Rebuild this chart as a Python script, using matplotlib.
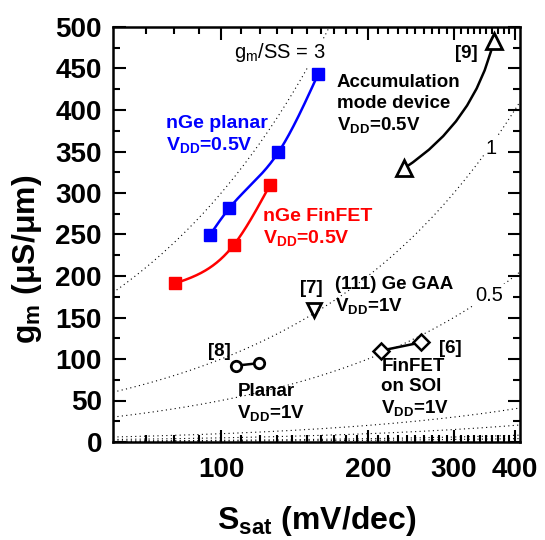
import numpy as np
import matplotlib
matplotlib.use('Agg')
import matplotlib.pyplot as plt
from matplotlib.ticker import FixedLocator, NullFormatter

plt.rcParams['font.family'] = ['Liberation Sans', 'DejaVu Sans']
plt.rcParams['mathtext.fontset'] = 'custom'
plt.rcParams['mathtext.rm'] = 'Liberation Sans'
plt.rcParams['mathtext.bf'] = 'Liberation Sans:bold'

# ---------------- data (S_sat in mV/dec, gm in uS/um) ----------------
planar_s = [94.7, 104, 131, 158]
planar_gm = [249, 282, 349, 443]

finfet_s = [80.4, 106, 126]
finfet_gm = [191, 237, 310]

gaa_s = [155]          # [7] (111) Ge GAA
gaa_gm = [159]

ref8_s = [107.4, 119.5]  # [8] planar
ref8_gm = [92, 95]

ref6_s = [212.5, 257]    # [6] FinFET on SOI
ref6_gm = [110, 120]

acc_s = [237.6, 362]     # [9] accumulation mode
acc_gm = [330, 483]

ratios = [3, 1, 0.5, 0.1, 0.05, 0.02, 0.01]   # gm/SS constant lines

x_major = [100, 200, 300, 400]
x_minor = [70, 80, 90] + list(range(110, 200, 10)) + list(range(210, 300, 10)) + list(range(310, 400, 10))


def natural_spline(x, y, n=80):
    # natural cubic spline through the points
    x = np.asarray(x, float)
    y = np.asarray(y, float)
    k = len(x)
    h = np.diff(x)
    A = np.zeros((k, k))
    b = np.zeros(k)
    A[0, 0] = A[-1, -1] = 1
    for i in range(1, k - 1):
        A[i, i - 1] = h[i - 1]
        A[i, i] = 2 * (h[i - 1] + h[i])
        A[i, i + 1] = h[i]
        b[i] = 3 * ((y[i + 1] - y[i]) / h[i] - (y[i] - y[i - 1]) / h[i - 1])
    c = np.linalg.solve(A, b)
    xs, ys = [], []
    for i in range(k - 1):
        bb = (y[i + 1] - y[i]) / h[i] - h[i] * (2 * c[i] + c[i + 1]) / 3
        d = (c[i + 1] - c[i]) / (3 * h[i])
        t = np.linspace(0, h[i], n)
        xs.append(x[i] + t)
        ys.append(y[i] + bb * t + c[i] * t ** 2 + d * t ** 3)
    return np.concatenate(xs), np.concatenate(ys)


fig = plt.figure(figsize=(5.45, 5.4), dpi=100)
ax = fig.add_axes([113 / 545, 1 - 442 / 540, 407 / 545, 415 / 540])
ax.set_xscale('log')
ax.set_xlim(60, 410)
ax.set_ylim(0, 500)

# dotted gm/SS lines
s_line = np.logspace(np.log10(60), np.log10(410), 200)
for r in ratios:
    ax.plot(s_line, r * s_line, color='black', lw=0.8, ls=(0, (1, 3)), zorder=1)

# nGe planar
lx, ly = natural_spline(np.log10(planar_s), planar_gm)
ax.plot(10 ** lx, ly, color='#0000FF', lw=1.8, zorder=3)
ax.plot(planar_s, planar_gm, 's', color='#0000FF', ms=8, zorder=4)

# nGe FinFET
lx, ly = natural_spline(np.log10(finfet_s), finfet_gm)
ax.plot(10 ** lx, ly, color='#FF0000', lw=1.8, zorder=3)
ax.plot(finfet_s, finfet_gm, 's', color='#FF0000', ms=8, zorder=4)

# references
ax.plot(gaa_s, gaa_gm, 'v', ms=10, mfc='white', mec='black', mew=2, zorder=4)
ax.plot(ref8_s, ref8_gm, '-o', color='black', lw=1.8, ms=7.5, mfc='white', mew=2, zorder=4)
ax.plot(ref6_s, ref6_gm, '-D', color='black', lw=1.8, ms=8.5, mfc='white', mew=1.8, zorder=4)
ax.annotate('', xy=(acc_s[1], acc_gm[1]), xytext=(acc_s[0], acc_gm[0]),
            arrowprops=dict(arrowstyle='-', connectionstyle='arc3,rad=0.2',
                            lw=1.8, color='black', shrinkA=0, shrinkB=0), zorder=3)
ax.plot(acc_s, acc_gm, '^', ms=11, mfc='white', mec='black', mew=2, zorder=4)

# labels
bold = dict(fontweight='bold', ha='left', va='top', linespacing=1.25)
ax.text(77, 394, 'nGe planar\nV$_\\mathdefault{DD}$=0.5V', color='#0000FF', fontsize=14, **bold)
ax.text(121.7, 282, 'nGe FinFET\nV$_\\mathdefault{DD}$=0.5V', color='#FF0000', fontsize=14, **bold)
ax.text(172.6, 443, 'Accumulation\nmode device\nV$_\\mathdefault{DD}$=0.5V', fontsize=13.5, **bold)
ax.text(301, 478, '[9]', fontsize=13.5, **bold)
ax.text(171.3, 200, '(111) Ge GAA\nV$_\\mathdefault{DD}$=1V', fontsize=13.5, **bold)
ax.text(145, 195, '[7]', fontsize=13.5, **bold)
ax.text(94.1, 119, '[8]', fontsize=13.5, **bold)
ax.text(108, 71, 'Planar\nV$_\\mathdefault{DD}$=1V', fontsize=13.5, **bold)
ax.text(280, 123, '[6]', fontsize=13.5, **bold)
ax.text(213, 101, 'FinFET\non SOI\nV$_\\mathdefault{DD}$=1V', fontsize=13.5, **bold)

wb = dict(facecolor='white', edgecolor='none', pad=1)
ax.text(106, 469, 'g$_\\mathdefault{m}$/SS = 3', fontsize=14.5, ha='left', va='center', bbox=wb, zorder=2)
ax.text(357, 354, '1', fontsize=14.5, ha='center', va='center', bbox=wb, zorder=2)
ax.text(355, 177, '0.5', fontsize=14.5, ha='center', va='center', bbox=wb, zorder=2)

# axes styling
for sp in ax.spines.values():
    sp.set_linewidth(1.8)
ax.xaxis.set_major_locator(FixedLocator(x_major))
ax.xaxis.set_minor_locator(FixedLocator(x_minor))
ax.xaxis.set_minor_formatter(NullFormatter())
ax.set_xticklabels([str(v) for v in x_major])
ax.set_yticks(np.arange(0, 501, 50))
ax.set_yticks(np.arange(0, 501, 25), minor=True)
ax.tick_params(which='both', direction='in', top=True, right=True, width=1.5)
ax.tick_params(which='major', length=9)
ax.tick_params(which='minor', length=5)
ax.tick_params(axis='x', which='major', pad=11, labelsize=20)
ax.tick_params(axis='y', which='major', pad=8, labelsize=20)
for lab in ax.get_xticklabels() + ax.get_yticklabels():
    lab.set_fontweight('bold')

ax.set_xlabel('S$_\\mathdefault{sat}$ (mV/dec)', fontsize=23, fontweight='bold')
ax.set_ylabel('g$_\\mathdefault{m}$ (μS/μm)', fontsize=23, fontweight='bold')
ax.xaxis.set_label_coords(0.5, -0.15)
ax.yaxis.set_label_coords(-0.17, 0.44)

fig.savefig('out.png', dpi=100)
